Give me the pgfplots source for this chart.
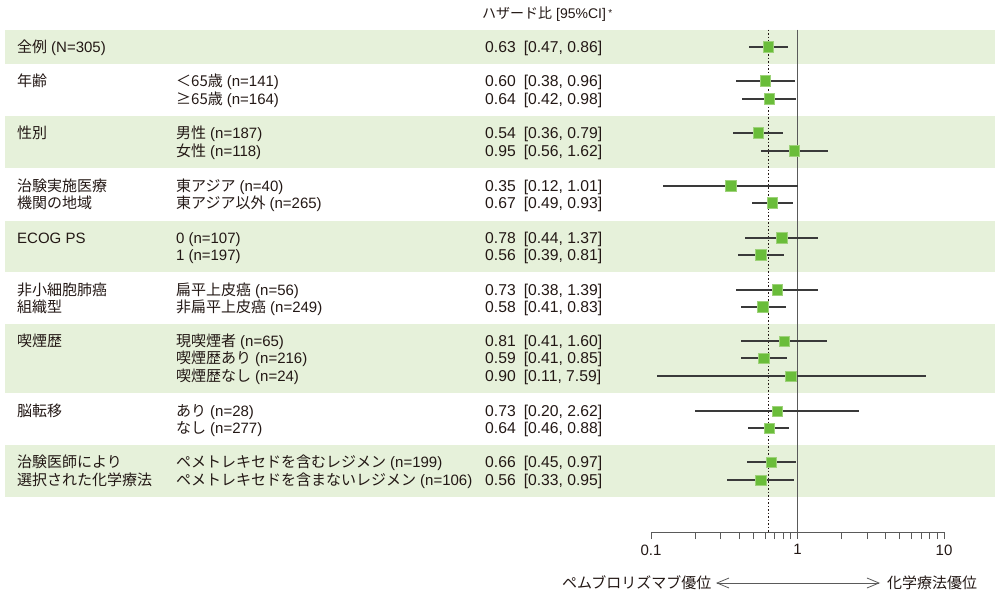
\documentclass[border=0pt]{standalone}
\usepackage{fontspec}
\setmainfont{Liberation Sans}
\newfontfamily\jp{Noto Sans CJK JP}
\usepackage{pgfplots}
\usepackage{pgfplotstable}
\pgfplotsset{compat=1.18}
\usetikzlibrary{arrows.meta}
\definecolor{band}{HTML}{E6F1DA}
\definecolor{mk}{HTML}{6ABD3A}
\definecolor{mkedge}{HTML}{9ED27A}
\definecolor{txt}{HTML}{231815}
\definecolor{ci}{HTML}{3A3A3A}
\definecolor{ax}{HTML}{5A5A5A}

% hazard ratio, 95% CI, row (pixel row, negative)
\pgfplotstableread{
hr   lo   hi   y
0.63 0.47 0.86 -47
0.60 0.38 0.96 -81
0.64 0.42 0.98 -99
0.54 0.36 0.79 -133
0.95 0.56 1.62 -151
0.35 0.12 1.01 -186
0.67 0.49 0.93 -203
0.78 0.44 1.37 -238
0.56 0.39 0.81 -255
0.73 0.38 1.39 -290
0.58 0.41 0.83 -307
0.81 0.41 1.60 -341
0.59 0.41 0.85 -358
0.90 0.11 7.59 -376
0.73 0.20 2.62 -411
0.64 0.46 0.88 -428
0.66 0.45 0.97 -462
0.56 0.33 0.95 -480
}\hrdata

\tikzset{lbl/.style={anchor=base west, inner sep=0pt, yshift=-5.3pt, text=txt,
  font=\fontsize{15}{18}\selectfont}}
\newcommand\lbl[3]{\node[lbl] at (axis cs:#1,-#2) {#3};}
\newcommand\band[2]{\fill[band] (axis cs:5,-#1) rectangle (axis cs:995,-#2);}
\newcommand\p{\hspace{4pt}}
% HR column: value [lower, upper]
\newcommand\hr[4]{\node[lbl, font=\fontsize{15.7}{18}\selectfont] at (axis cs:485,-#1)
  {#2\hspace{8pt}[#3, #4]};}

\begin{document}
\begin{tikzpicture}
\useasboundingbox (0,0) rectangle (1000pt,600pt);
% table part
\begin{axis}[at={(0,0)}, anchor=south west, scale only axis,
  width=1000pt, height=600pt, xmin=0, xmax=1000, ymin=-600, ymax=0,
  hide axis, clip=false]
\band{29.7}{64.3}
\band{115.7}{168.3}
\band{220.7}{272.3}
\band{323.7}{393.3}
\band{444.7}{497.3}

\node[lbl, font=\fontsize{14}{16}\selectfont] at (axis cs:482,-13) {{\jp ハザード比}\p[95\%CI]\,\raisebox{2pt}{\fontsize{10}{12}\selectfont *}};

\lbl{17}{47}{{\jp 全例}\p(N=305)}
\lbl{17}{81}{\jp 年齢}
\lbl{17}{133}{\jp 性別}
\lbl{17}{186}{\jp 治験実施医療}
\lbl{17}{203}{\jp 機関の地域}
\lbl{17}{238}{ECOG PS}
\lbl{17}{290}{\jp 非小細胞肺癌}
\lbl{17}{307}{\jp 組織型}
\lbl{17}{341}{\jp 喫煙歴}
\lbl{17}{411}{\jp 脳転移}
\lbl{17}{462}{\jp 治験医師により}
\lbl{17}{480}{\jp 選択された化学療法}

\lbl{176}{81}{{\jp ＜65歳}\p(n=141)}
\lbl{176}{99}{{\jp ≥65歳}\p(n=164)}
\lbl{176}{133}{{\jp 男性}\p(n=187)}
\lbl{176}{151}{{\jp 女性}\p(n=118)}
\lbl{176}{186}{{\jp 東アジア}\p(n=40)}
\lbl{176}{203}{{\jp 東アジア以外}\p(n=265)}
\lbl{176}{238}{0\p(n=107)}
\lbl{176}{255}{1\p(n=197)}
\lbl{176}{290}{{\jp 扁平上皮癌}\p(n=56)}
\lbl{176}{307}{{\jp 非扁平上皮癌}\p(n=249)}
\lbl{176}{341}{{\jp 現喫煙者}\p(n=65)}
\lbl{176}{358}{{\jp 喫煙歴あり}\p(n=216)}
\lbl{176}{376}{{\jp 喫煙歴なし}\p(n=24)}
\lbl{176}{411}{{\jp あり}\p(n=28)}
\lbl{176}{428}{{\jp なし}\p(n=277)}
\lbl{176}{462}{{\jp ペメトレキセドを含むレジメン}\p(n=199)}
\lbl{176}{480}{{\jp ペメトレキセドを含まないレジメン}\p(n=106)}

\hr{47}{0.63}{0.47}{0.86}
\hr{81}{0.60}{0.38}{0.96}
\hr{99}{0.64}{0.42}{0.98}
\hr{133}{0.54}{0.36}{0.79}
\hr{151}{0.95}{0.56}{1.62}
\hr{186}{0.35}{0.12}{1.01}
\hr{203}{0.67}{0.49}{0.93}
\hr{238}{0.78}{0.44}{1.37}
\hr{255}{0.56}{0.39}{0.81}
\hr{290}{0.73}{0.38}{1.39}
\hr{307}{0.58}{0.41}{0.83}
\hr{341}{0.81}{0.41}{1.60}
\hr{358}{0.59}{0.41}{0.85}
\hr{376}{0.90}{0.11}{7.59}
\hr{411}{0.73}{0.20}{2.62}
\hr{428}{0.64}{0.46}{0.88}
\hr{462}{0.66}{0.45}{0.97}
\hr{480}{0.56}{0.33}{0.95}

\lbl{562}{583}{\jp ペムブロリズマブ優位}
\lbl{887}{583}{\jp 化学療法優位}
\draw[ax, line width=0.8pt, {Straight Barb[length=12pt,width=10pt]}-{Straight Barb[length=12pt,width=10pt]}]
  (axis cs:716,-583) -- (axis cs:880,-583);
\end{axis}

% forest part
\begin{axis}[at={(651pt,68pt)}, anchor=south west, scale only axis,
  width=293pt, height=502.3pt, xmode=log, xmin=0.1, xmax=10,
  ymin=-532, ymax=-29.7, clip=false,
  axis x line*=bottom, axis y line=none,
  axis line style={ax, line width=0.9pt},
  xtick={0.1,1,10}, xticklabels={0.1,1,10},
  minor xtick={0.2,0.3,0.4,0.5,0.6,0.7,0.8,0.9,2,3,4,5,6,7,8,9},
  tick align=outside, major tick length=7pt, minor tick length=7pt,
  tick style={ax, line width=0.9pt},
  xticklabel style={font=\fontsize{15}{18}\selectfont, text=txt, yshift=-2pt},
  /pgf/number format/assume math mode=true]
\addplot[ax, line width=1pt] coordinates {(1,-29.7) (1,-532)};
\addplot[txt, line width=0.9pt, dash pattern=on 1.5pt off 2pt] coordinates {(0.63,-29.7) (0.63,-532)};
\addplot[draw=none, mark=none,
  error bars/.cd, x dir=both, x explicit, error mark=none,
  error bar style={ci, line width=1.3pt}]
  table[x=hr, y=y, x error minus expr=\thisrow{hr}-\thisrow{lo},
        x error plus expr=\thisrow{hi}-\thisrow{hr}] {\hrdata};
\addplot[only marks, mark=square*, mark size=5.2pt,
  mark options={fill=mk, draw=mkedge, line width=0.6pt}]
  table[x=hr, y=y] {\hrdata};
\end{axis}
\end{tikzpicture}
\end{document}
